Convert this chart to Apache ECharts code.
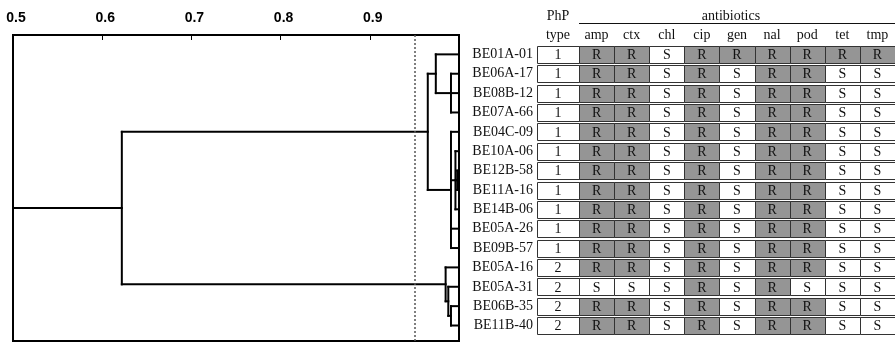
<!DOCTYPE html>
<html><head><meta charset="utf-8">
<script src="https://cdn.jsdelivr.net/npm/echarts@6/dist/echarts.min.js"></script>
<style>html,body{margin:0;padding:0;background:#fff}#c{width:895px;height:342px}</style>
</head><body><div id="c"></div>
<script>
const strains = ['BE01A-01','BE06A-17','BE08B-12','BE07A-66','BE04C-09','BE10A-06','BE12B-58','BE11A-16','BE14B-06','BE05A-26','BE09B-57','BE05A-16','BE05A-31','BE06B-35','BE11B-40'];
const phpTypes = [1,1,1,1,1,1,1,1,1,1,1,2,2,2,2];
const antibiotics = ['amp','ctx','chl','cip','gen','nal','pod','tet','tmp'];
const profiles = [
  'RRSRRRRRR','RRSRSRRSS','RRSRSRRSS','RRSRSRRSS','RRSRSRRSS',
  'RRSRSRRSS','RRSRSRRSS','RRSRSRRSS','RRSRSRRSS','RRSRSRRSS',
  'RRSRSRRSS','RRSRSRRSS','SSSRSRSSS','RRSRSRRSS','RRSRSRRSS'
];
const axisTicks = [0.5, 0.6, 0.7, 0.8, 0.9];
const xMin = 0.5, xMax = 1.0;
const cutoff = 0.947;
// merges: [id, similarity, children]  (number = leaf row, string = merge id)
const merges = [
  ['b1', 0.991, [1, 2, 3]],
  ['a1', 0.974, [0, 'b1']],
  ['t1s', 0.998, [6, 7]],
  ['t1', 0.996, [5, 't1s', 8]],
  ['a2', 0.991, [4, 't1', 9, 10]],
  ['A', 0.965, ['a1', 'a2']],
  ['v', 0.991, [13, 14]],
  ['z', 0.988, [12, 'v']],
  ['B', 0.985, [11, 'z']],
  ['root', 0.622, ['A', 'B']]
];

const pos = {};
function info(c){ return typeof c === 'number' ? {y: c, h: xMax} : pos[c]; }
const segments = [];
merges.forEach(([id, h, ch]) => {
  const cs = ch.map(info);
  const ys = cs.map(c => c.y);
  const y0 = Math.min(...ys), y1 = Math.max(...ys);
  segments.push([h, y0, h, y1]);
  cs.forEach(c => segments.push([h, c.y, c.h, c.y]));
  pos[id] = {y: (y0 + y1) / 2, h: h};
});
segments.push([xMin, pos.root.y, pos.root.h, pos.root.y]);

const typeCells = phpTypes.map((t, i) => [0, i]);
const abCells = [];
profiles.forEach((p, i) => { for (let j = 0; j < antibiotics.length; j++) abCells.push([j, i]); });

const serif = '"Liberation Serif","Times New Roman",serif';
const ROWTOP = 44.7, ROWH = 290.6;

function cellRender(getText, getFill){
  return function(params, api){
    const j = api.value(0), i = api.value(1);
    const c = api.coord([j, i]);
    const s = api.size([1, 1]);
    const x0 = Math.round(c[0] - s[0] / 2) + 0.5;
    const x1 = Math.round(c[0] + s[0] / 2) + 0.5;
    const y0 = Math.round(c[1] - 8.5) + 0.5;
    const y1 = Math.round(c[1] + 8.5) + 0.5;
    return {
      type: 'group',
      children: [
        {type: 'rect', shape: {x: x0, y: y0, width: x1 - x0, height: y1 - y0},
         style: {fill: getFill(i, j), stroke: '#333', lineWidth: 1}},
        {type: 'text', style: {text: getText(i, j), x: c[0], y: c[1] + 1, align: 'center', verticalAlign: 'middle',
          font: '14px ' + serif, fill: '#111'}}
      ]
    };
  };
}

const chart = echarts.init(document.getElementById('c'), null, {renderer: 'canvas'});
chart.setOption({
  animation: false,
  backgroundColor: '#fff',
  grid: [
    {left: 13, top: 35, width: 446, height: 306, show: true, borderColor: '#000', borderWidth: 2, backgroundColor: 'transparent'},
    {left: 537, top: ROWTOP, width: 42, height: ROWH},
    {left: 579, top: ROWTOP, width: 320.4, height: ROWH}
  ],
  xAxis: [
    {gridIndex: 0, type: 'value', position: 'top', min: xMin, max: xMax, interval: 0.1,
     axisLine: {show: true, onZero: false, lineStyle: {color: '#000', width: 2}},
     axisTick: {show: true, inside: true, length: 5, lineStyle: {color: '#000', width: 1}},
     splitLine: {show: false},
     axisLabel: {showMaxLabel: false, margin: 10, padding: [0, 0, 0, 6],
       formatter: v => { const k = axisTicks.findIndex(t => Math.abs(t - v) < 1e-6); return k >= 0 ? axisTicks[k].toFixed(1) : ''; },
       fontFamily: '"Liberation Sans", Arial, sans-serif', fontWeight: 'bold', fontSize: 14, color: '#000'}},
    {gridIndex: 1, type: 'category', position: 'top', data: ['type'],
     axisLine: {show: false}, axisTick: {show: false},
     axisLabel: {margin: 2, fontFamily: serif, fontSize: 14, color: '#111'}},
    {gridIndex: 2, type: 'category', position: 'top', data: antibiotics,
     axisLine: {show: false}, axisTick: {show: false},
     axisLabel: {margin: 2, fontFamily: serif, fontSize: 14, color: '#111', interval: 0}}
  ],
  yAxis: [
    {gridIndex: 0, type: 'value', min: -1, max: 14.8, inverse: true, show: false},
    {gridIndex: 1, type: 'category', data: strains, inverse: true,
     axisLine: {show: false}, axisTick: {show: false},
     axisLabel: {margin: 4, fontFamily: serif, fontSize: 14, color: '#111', interval: 0}},
    {gridIndex: 2, type: 'category', data: strains, inverse: true, show: false}
  ],
  graphic: [
    {type: 'text', x: 558, y: 16, style: {text: 'PhP', align: 'center', verticalAlign: 'middle', font: '14px ' + serif, fill: '#111'}},
    {type: 'text', x: 731, y: 16, style: {text: 'antibiotics', align: 'center', verticalAlign: 'middle', font: '14px ' + serif, fill: '#111'}},
    {type: 'line', shape: {x1: 579, y1: 23.5, x2: 895, y2: 23.5}, style: {stroke: '#111', lineWidth: 1}}
  ],
  series: [
    {type: 'custom', xAxisIndex: 0, yAxisIndex: 0, data: segments, clip: false, silent: true,
     renderItem: function(params, api){
       const p1 = api.coord([api.value(0), api.value(1)]);
       const p2 = api.coord([api.value(2), api.value(3)]);
       return {type: 'line', shape: {x1: p1[0], y1: p1[1], x2: p2[0], y2: p2[1]},
               style: {stroke: '#000', lineWidth: 2, lineCap: 'square'}};
     },
     markLine: {silent: true, symbol: 'none', label: {show: false},
       lineStyle: {type: [2, 2], color: '#555', width: 1.5}, data: [{xAxis: cutoff}]}},
    {type: 'custom', xAxisIndex: 1, yAxisIndex: 1, data: typeCells, silent: true,
     renderItem: cellRender((i, j) => String(phpTypes[i]), () => '#fff')},
    {type: 'custom', xAxisIndex: 2, yAxisIndex: 2, data: abCells, silent: true,
     renderItem: cellRender((i, j) => profiles[i][j], (i, j) => profiles[i][j] === 'R' ? '#959595' : '#fff')}
  ]
});
</script></body></html>
